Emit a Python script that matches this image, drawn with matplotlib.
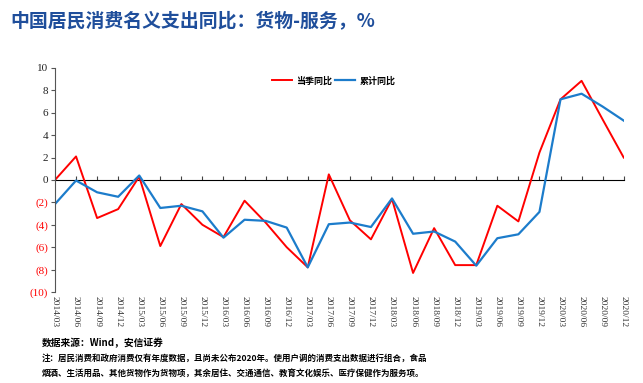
import matplotlib
matplotlib.use("Agg")
import matplotlib.pyplot as plt
import numpy as np

plt.rcParams['font.family'] = ['Noto Sans CJK SC', 'DejaVu Sans']

quarters = ['2014/03', '2014/06', '2014/09', '2014/12',
            '2015/03', '2015/06', '2015/09', '2015/12',
            '2016/03', '2016/06', '2016/09', '2016/12',
            '2017/03', '2017/06', '2017/09', '2017/12',
            '2018/03', '2018/06', '2018/09', '2018/12',
            '2019/03', '2019/06', '2019/09', '2019/12',
            '2020/03', '2020/06', '2020/09', '2020/12']

# 当季同比
quarter_yoy = [0.0, 2.1, -3.4, -2.6, 0.3, -5.9, -2.15, -4.0,
               -5.1, -1.85, -3.8, -6.0, -7.8, 0.5, -3.6, -5.3,
               -1.7, -8.3, -4.3, -7.6, -7.6, -2.3, -3.7, 2.45,
               7.2, 8.85, 5.4, 2.0]
# 累计同比
cum_yoy = [-2.15, -0.05, -1.1, -1.5, 0.4, -2.5, -2.3, -2.8,
           -5.15, -3.55, -3.65, -4.25, -7.8, -3.95, -3.8, -4.2,
           -1.65, -4.8, -4.6, -5.5, -7.65, -5.2, -4.85, -2.85,
           7.2, 7.7, 6.55, 5.3]

yticks = [10, 8, 6, 4, 2, 0, -2, -4, -6, -8, -10]

title = '中国居民消费名义支出同比：货物-服务，%'
source = '数据来源：Wind，安信证券'
note = ('注：居民消费和政府消费仅有年度数据，且尚未公布2020年。使用户调的消费支出数据进行组合，食品\n'
        '烟酒、生活用品、其他货物作为货物项，其余居住、交通通信、教育文化娱乐、医疗保健作为服务项。')

red = '#FF0000'
blue = '#1C7CCB'
serif = 'Liberation Serif'

fig = plt.figure(figsize=(6.43, 3.83), dpi=100)
ax = fig.add_axes([0.0855, 0.2376, 0.8845, 0.585])

x = np.arange(len(quarters))
ax.plot(x, quarter_yoy, color=red, lw=1.4, label='当季同比')
ax.plot(x, cum_yoy, color=blue, lw=1.6, label='累计同比')

ax.set_xlim(0, len(quarters) - 1)
ax.set_ylim(-10, 10)

for s in ['top', 'right', 'bottom']:
    ax.spines[s].set_visible(False)
ax.spines['left'].set_color('#555555')
ax.spines['left'].set_linewidth(0.8)

ax.set_yticks(yticks)
ylabels = [str(v) if v >= 0 else '(%d)' % -v for v in yticks]
ax.set_yticklabels(ylabels, fontfamily=serif, fontsize=8)
for lab, v in zip(ax.get_yticklabels(), yticks):
    lab.set_color(red if v < 0 else '#222222')
ax.tick_params(axis='y', direction='out', length=3, width=0.8, color='#555555', pad=2)

ax.set_xticks(x)
ax.set_xticklabels(quarters, rotation=270, fontfamily=serif, fontsize=6.8, color='#333333')
ax.tick_params(axis='x', length=0, pad=3)

# zero line with tick marks
zero = ax.secondary_xaxis(0.5)
zero.set_xticks(x)
zero.set_xticklabels([])
zero.spines['bottom'].set_color('#444444')
zero.spines['bottom'].set_linewidth(0.8)
zero.tick_params(direction='out', length=3, width=0.8, color='#444444')

leg = ax.legend(loc='upper center', bbox_to_anchor=(0.49, 1.0), ncol=2, frameon=False,
                fontsize=6.5, handlelength=2.2, handletextpad=0.5, columnspacing=0.3)
for t in leg.get_texts():
    t.set_fontweight('bold')

fig.text(0.016, 0.943, title, fontsize=13.6, fontweight='bold', color='#1F4E9B', va='center')
fig.text(0.065, 0.105, source, fontsize=7, fontweight='bold', va='center')
fig.text(0.065, 0.045, note, fontsize=6.1, fontweight='bold', va='center', linespacing=1.75)

fig.savefig('out.png', dpi=100)
